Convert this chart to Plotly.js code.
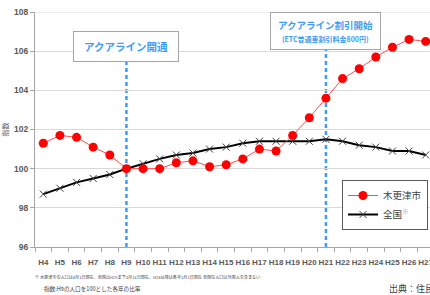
<!DOCTYPE html>
<html><head><meta charset="utf-8">
<script src="https://cdn.plot.ly/plotly-3.0.1.min.js"></script>
<style>html,body{margin:0;padding:0;overflow:hidden;background:#fff;width:430px;height:295px}#chart{width:440px;height:295px}</style>
</head><body><div id="chart"></div><script>
const years = ['H4','H5','H6','H7','H8','H9','H10','H11','H12','H13','H14','H15','H16','H17','H18','H19','H20','H21','H22','H23','H24','H25','H26','H27'];
const kisarazu = [101.3,101.7,101.6,101.1,100.7,100.0,100.0,100.0,100.3,100.4,100.1,100.2,100.5,101.0,100.9,101.7,102.6,103.6,104.6,105.1,105.7,106.2,106.6,106.5];
const national = [98.7,99.0,99.3,99.5,99.7,100.0,100.25,100.5,100.7,100.8,101.0,101.1,101.3,101.4,101.4,101.4,101.4,101.5,101.4,101.2,101.1,100.9,100.9,100.7];
const seriesNames = ['木更津市','全国<sup><span style="color:#a6a6a6">※</span></sup>'];
const eventYears = ['H9','H21'];
const eventLabels = ['アクアライン開通','アクアライン割引開始<br><span style="font-size:7px">(ETC普通車割引料金800円)</span>'];
const yTicks = [96,98,100,102,104,106,108];
const notes = ['※ 木更津市の人口は4月1日現在、全国はH25まで3月31日現在、H26以降は各年1月1日現在 全国の人口は外国人を含まない','指数:H9の人口を100とした各年の比率','出典：住民基本台帳'];

const JP = 'Noto Sans CJK JP, sans-serif';
const PW = 399, PL = 35, PB = 247, PH = 235;
const px = x => (x - PL) / PW;
const py = y => (PB - y) / PH;

const traces = [
  {x: years, y: national, name: seriesNames[1], type: 'scatter', mode: 'lines+markers', legendrank: 2,
   line: {color: '#000000', width: 2},
   marker: {symbol: 'x-thin-open', size: 7, color: '#404040', line: {color: '#404040', width: 1}}},
  {x: years, y: kisarazu, name: seriesNames[0], type: 'scatter', mode: 'lines+markers', legendrank: 1,
   line: {color: '#ff4d4d', width: 1},
   marker: {symbol: 'circle', size: 9, color: '#ff0000'}}
];

const boxY = [py(46.5), py(31)];
const boxW = [102, 107];
const boxH = [27, 34];
const annotations = eventYears.map((e, i) => ({
  x: years.indexOf(e), xref: 'x', y: boxY[i], yref: 'paper', text: eventLabels[i], showarrow: false,
  font: {family: JP, size: i === 0 ? 10.5 : 9.5, color: '#3d9df5', weight: 'bold'},
  bgcolor: '#ffffff', bordercolor: '#a6a6a6', borderwidth: 1, borderpad: 1,
  width: boxW[i], height: boxH[i], xanchor: 'center', yanchor: 'middle'
}));
annotations.push(
  {x: px(33), y: py(277), xref: 'paper', yref: 'paper', xanchor: 'left', yanchor: 'middle', showarrow: false,
   text: notes[0], font: {family: JP, size: 4.1, color: '#404040'}},
  {x: px(42), y: py(289), xref: 'paper', yref: 'paper', xanchor: 'left', yanchor: 'middle', showarrow: false,
   text: notes[1], font: {family: JP, size: 5.6, color: '#404040'}},
  {x: px(387), y: py(288), xref: 'paper', yref: 'paper', xanchor: 'left', yanchor: 'middle', showarrow: false,
   text: notes[2], font: {family: JP, size: 9, color: '#404040'}}
);

const shapes = eventYears.map((e, i) => ({
  type: 'line', xref: 'x', yref: 'paper', x0: years.indexOf(e), x1: years.indexOf(e), y0: 0, y1: boxY[i],
  line: {color: '#3d9df5', width: 2.5, dash: '4px,3px'}, layer: 'below'
}));
shapes.push({type: 'line', xref: 'paper', yref: 'y', x0: 0, x1: 1, y0: 108, y1: 108, line: {color: '#d9d9d9', width: 1}, layer: 'below'});

const layout = {
  width: 440, height: 295,
  margin: {l: 35, r: 6, t: 12, b: 48},
  paper_bgcolor: '#ffffff', plot_bgcolor: '#ffffff',
  font: {family: JP, color: '#595959'},
  showlegend: true,
  legend: {x: px(342), y: py(180), xanchor: 'left', yanchor: 'top', bgcolor: '#ffffff',
    bordercolor: '#595959', borderwidth: 1, font: {family: JP, size: 9.5, color: '#404040'}, itemwidth: 30},
  xaxis: {type: 'category', range: [-0.5, years.length - 0.5], showgrid: false, showline: true, linecolor: '#a6a6a6',
    ticks: 'outside', tickson: 'boundaries', ticklen: 4, tickcolor: '#a6a6a6', tickangle: 0, ticklabelstandoff: 7,
    tickfont: {family: 'Liberation Sans, Arial, sans-serif', size: 8, color: '#595959', weight: 'bold'}},
  yaxis: {range: [96, 108], tickvals: yTicks, showgrid: true, gridcolor: '#d9d9d9', gridwidth: 1, zeroline: false,
    showline: true, linecolor: '#a6a6a6', ticks: 'outside', ticklen: 4, tickcolor: '#a6a6a6',
    tickfont: {family: 'Liberation Sans, Arial, sans-serif', size: 8.5, color: '#595959', weight: 'bold'},
    title: {text: '指数', font: {family: JP, size: 7, color: '#595959'}, standoff: 4}},
  annotations: annotations,
  shapes: shapes
};
Plotly.newPlot('chart', traces, layout, {staticPlot: true, displayModeBar: false});
</script></body></html>
